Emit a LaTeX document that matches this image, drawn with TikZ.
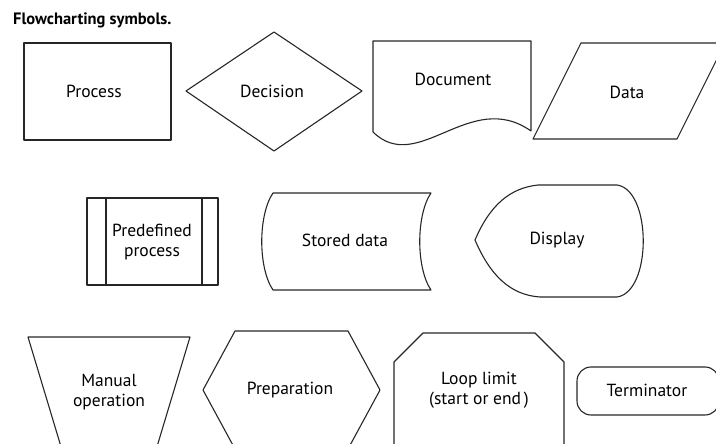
\documentclass[tikz,border=0pt]{standalone}
\usepackage{fontspec}
\setmainfont{PT Sans}
\begin{document}
\begin{tikzpicture}[x=1pt, y=-1pt,
  symbol/.style={draw=black!85, line width=1.1pt, line join=round},
  lbl/.style={font=\fontsize{17.5}{20.5}\selectfont, align=center, inner sep=0pt}]
\useasboundingbox (0, 0) rectangle (716, 444);
\clip (0, 0) rectangle (716, 444);

\node[anchor=west, inner sep=0pt, font=\bfseries\fontsize{16.5}{19}\selectfont] (title) at (13, 20) {Flowcharting symbols.};

% first row
\draw[symbol] (24, 43) rectangle (171, 140);
\draw[symbol] (186, 91) -- (274, 32) -- (362, 91) -- (274, 151) -- cycle;
\draw[symbol] (373, 132) -- (373, 41) -- (531, 41) -- (531, 131)
  .. controls (470, 88) and (418, 176) .. cycle;
\draw[symbol] (533, 139) -- (581, 43) -- (725, 43) -- (677, 139) -- cycle;

\node[lbl] (process) at (94, 91) {Process};
\node[lbl] (decision) at (272, 91) {Decision};
\node[lbl] (document) at (453, 79) {Document};
\node[lbl] (data) at (627, 92) {Data};

% second row
\draw[symbol] (87, 198) rectangle (218, 285);
\draw[symbol] (106, 198) -- (106, 285);
\draw[symbol] (202, 198) -- (202, 285);
\draw[symbol] (273, 193) -- (431, 193) .. controls (416, 215) and (416, 268) .. (431, 290)
  -- (273, 290) .. controls (258, 268) and (258, 215) .. cycle;
\draw[symbol] (475, 240) .. controls (490, 205) and (510, 188) .. (538, 185) -- (617, 185)
  .. controls (652, 190) and (652, 292) .. (617, 297) -- (540, 297)
  .. controls (510, 295) and (490, 275) .. cycle;

\node[lbl] (predef) at (152, 242) {Predefined\\process};
\node[lbl] (stored) at (345, 240) {Stored data};
\node[lbl] (display) at (557, 240) {Display};

% third row
\draw[symbol] (28, 337) -- (190, 337) -- (156, 450) -- (62, 450) -- cycle;
\draw[symbol] (203, 390) -- (235, 331) -- (348, 331) -- (380, 390) -- (348, 449) -- (235, 449) -- cycle;
\draw[symbol] (394, 450) -- (394, 362) -- (423, 333) -- (535, 333) -- (564, 362) -- (564, 450);
\draw[symbol, rounded corners=14pt] (577, 367) rectangle (719, 415);

\node[lbl] (manual) at (109, 392) {Manual\\operation};
\node[lbl] (prep) at (290, 390) {Preparation};
\node[lbl] (loop) at (479, 390) {Loop limit\\(start or end\,)};
\node[lbl] (term) at (647, 390) {Terminator};
\end{tikzpicture}
\end{document}
